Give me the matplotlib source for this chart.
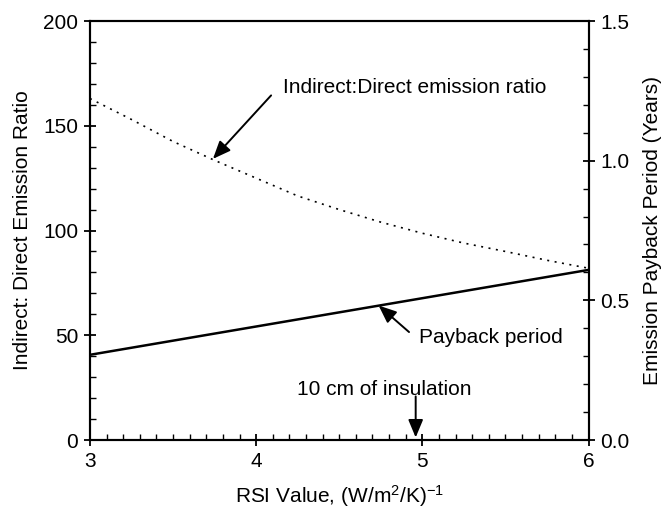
import matplotlib.pyplot as plt
from matplotlib.ticker import MultipleLocator, FormatStrFormatter

plt.rcParams['font.family'] = ['Liberation Sans', 'DejaVu Sans']
plt.rcParams['font.size'] = 15
plt.rcParams['mathtext.fontset'] = 'custom'
plt.rcParams['mathtext.rm'] = 'Liberation Sans'
plt.rcParams['mathtext.it'] = 'Liberation Sans:italic'

# RSI values and indirect:direct emission ratio (left axis)
rsi = [3.0, 3.25, 3.5, 3.75, 4.0, 4.25, 4.5, 4.75, 5.0, 5.25, 5.5, 5.75, 6.0]
ratio = [163, 153, 142.5, 133.5, 125, 116.5, 110, 104, 98.7, 94, 90, 85.8, 82]

# emission payback period in years (right axis)
rsi_payback = [3.0, 6.0]
payback = [0.305, 0.609]

fig = plt.figure(figsize=(6.64, 5.13), dpi=100)
ax = fig.add_axes([0.1355, 0.1423, 0.7508, 0.8167])
ax2 = ax.twinx()

ax.plot(rsi, ratio, color='black', lw=1.2, linestyle=(0, (1.2, 3.3)))
ax2.plot(rsi_payback, payback, color='black', lw=1.8)

ax.set_xlim(3, 6)
ax.set_ylim(0, 200)
ax2.set_ylim(0, 1.5)

ax.xaxis.set_major_locator(MultipleLocator(1))
ax.xaxis.set_minor_locator(MultipleLocator(0.1))
ax.yaxis.set_major_locator(MultipleLocator(50))
ax.yaxis.set_minor_locator(MultipleLocator(10))
ax2.yaxis.set_major_locator(MultipleLocator(0.5))
ax2.yaxis.set_minor_locator(MultipleLocator(0.1))
ax2.yaxis.set_major_formatter(FormatStrFormatter('%.1f'))

for a in (ax, ax2):
    for s in a.spines.values():
        s.set_linewidth(1.5)
    a.tick_params(which='major', direction='inout', length=9, width=1.3, pad=4)
    a.tick_params(which='minor', direction='in', length=4, width=1.0)
ax.tick_params(which='both', right=False, top=False)
ax2.tick_params(which='both', left=False, top=False)

ax.set_xlabel('RSI Value, (W/m$^2$/K)$^{-1}$', labelpad=9)
ax.set_ylabel('Indirect: Direct Emission Ratio', labelpad=8)
ax2.set_ylabel('Emission Payback Period (Years)', labelpad=10)

arrow = dict(arrowstyle='-|>,head_length=0.6,head_width=0.25', color='black',
             lw=1.4, mutation_scale=18, shrinkA=0, shrinkB=0)

ax.annotate('', xy=(3.74, 134.2), xytext=(4.09, 164.5), arrowprops=arrow)
ax.text(4.16, 168.5, 'Indirect:Direct emission ratio', ha='left', va='center')

ax2.annotate('', xy=(4.737, 0.4815), xytext=(4.92, 0.3865), arrowprops=arrow)
ax.text(4.98, 49, 'Payback period', ha='left', va='center')

ax.annotate('', xy=(4.96, 1.2), xytext=(4.96, 20.8), arrowprops=arrow)
ax.text(4.77, 24, '10 cm of insulation', ha='center', va='center')

fig.savefig('out.png', dpi=100)
plt.close(fig)
